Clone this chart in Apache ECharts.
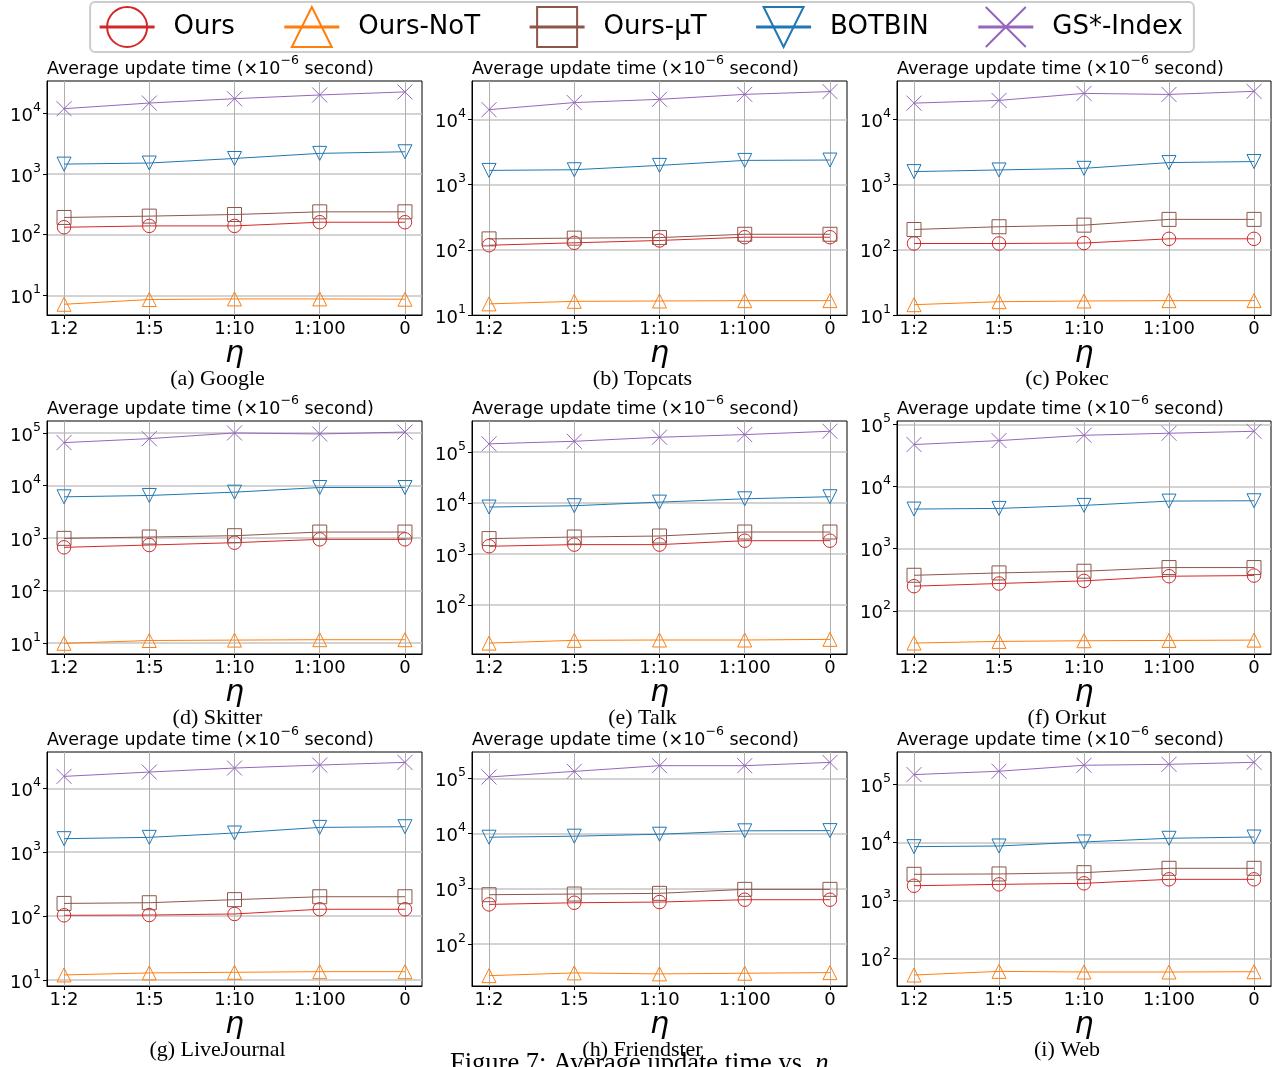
<!DOCTYPE html>
<html>
<head>
<meta charset="utf-8">
<script src="https://cdn.jsdelivr.net/npm/echarts@6/dist/echarts.min.js"></script>
<style>
html,body{margin:0;padding:0;background:#fff;}
#chart{width:1281px;height:1067px;}
</style>
</head>
<body>
<div id="chart"></div>
<script>
// ---------------- DATA ----------------
const categories = ['1:2', '1:5', '1:10', '1:100', '0'];
const seriesNames = ['Ours', 'Ours-NoT', 'Ours-μT', 'BOTBIN', 'GS*-Index'];
const panelCaptions = ['(a) Google', '(b) Topcats', '(c) Pokec', '(d) Skitter', '(e) Talk',
  '(f) Orkut', '(g) LiveJournal', '(h) Friendster', '(i) Web'];

// one row per dataset (a..i), one value per category
const ours = [
  [133, 140, 140, 161, 161],
  [117.5, 128, 139, 156, 156],
  [125, 125, 127, 147.5, 147.5],
  [665, 736, 815, 944, 944],
  [1430, 1540, 1540, 1840, 1840],
  [249, 275, 303, 360, 369],
  [103, 104, 108, 128, 128],
  [519, 556, 572, 631, 631],
  [1800, 1900, 1980, 2320, 2320]
];
const oursNoT = [
  [7.1, 8.5, 8.7, 8.7, 8.6],
  [14.8, 16.2, 16.4, 16.6, 16.6],
  [14.4, 16.0, 16.4, 16.6, 16.6],
  [9.9, 11.2, 11.4, 11.6, 11.6],
  [18.0, 20.4, 20.7, 20.7, 21.3],
  [30.3, 32.2, 33.0, 33.4, 33.8],
  [12.0, 12.9, 13.2, 13.5, 13.5],
  [26.5, 29.7, 28.5, 29.3, 30.1],
  [52.4, 60.5, 59.0, 59.0, 59.7]
];
const oursMuT = [
  [193, 203, 216, 239, 239],
  [147, 151, 154, 173, 173],
  [205, 226, 239, 293, 293],
  [986, 1045, 1107, 1300, 1300],
  [2020, 2170, 2270, 2720, 2720],
  [373, 407, 433, 496, 496],
  [158, 162, 181, 201, 201],
  [778, 800, 823, 973, 973],
  [2830, 2870, 3020, 3590, 3590]
];
const botbin = [
  [1470, 1530, 1820, 2210, 2350],
  [1650, 1690, 1970, 2350, 2380],
  [1585, 1680, 1780, 2180, 2260],
  [6090, 6460, 7470, 9160, 9160],
  [8400, 8920, 10500, 12200, 13400],
  [4330, 4440, 4960, 5820, 5890],
  [1630, 1710, 2000, 2450, 2510],
  [8580, 8950, 9720, 11200, 11300],
  [8470, 8690, 10200, 11800, 12400]
];
const gsIndex = [
  [12100, 15000, 17700, 20400, 22900],
  [14100, 18100, 20300, 24200, 26700],
  [17800, 19600, 25100, 24200, 27000],
  [65500, 78000, 100000, 95700, 104000],
  [146000, 164000, 197000, 222000, 258000],
  [47200, 54700, 66600, 71800, 77200],
  [15400, 18000, 20800, 23200, 25500],
  [106000, 134000, 170000, 170000, 195000],
  [147000, 168000, 213000, 221000, 239000]
];

// axis ranges per panel (log axis)
const yMin = [4.72, 10, 10, 6.2, 11, 20.2, 8.05, 17.2, 33.9];
const yMax = [34700, 38800, 38900, 169000, 410000, 113000, 37100, 301000, 360000];

// ---------------- STYLE / LAYOUT ----------------
const allSeries = [ours, oursNoT, oursMuT, botbin, gsIndex];
const colors = ['#d62728', '#ff7f0e', '#8c564b', '#1f77b4', '#9467bd'];
const symbols = ['circle', 'triangle', 'rect', 'triangle', 'path://M0,0L10,10M10,0L0,10'];
const symbolRot = [0, 0, 0, 180, 0];
const symbolSizes = [13.5, 14, 14, 14, 15];

const colLeft = [47, 472, 897];
const colWidth = [375, 375, 374];
const rowTop = [81, 421, 752];
const rowHeight = [234, 233, 234];

const font = '"DejaVu Sans", sans-serif';
const serif = '"Liberation Serif", "Times New Roman", serif';

function supLabel(v) {
  const e = Math.round(Math.log10(v));
  return '{b|10}{s|' + e + '}';
}

const grids = [], xAxes = [], yAxes = [], series = [], graphics = [];

for (let p = 0; p < 9; p++) {
  const r = Math.floor(p / 3), c = p % 3;
  const left = colLeft[c], top = rowTop[r], w = colWidth[c], h = rowHeight[r];
  grids.push({left: left, top: top, width: w, height: h, show: true,
    borderColor: '#000', borderWidth: 1, backgroundColor: 'transparent', containLabel: false});

  xAxes.push({
    type: 'value', gridIndex: p, min: -0.2, max: 4.2,
    axisLine: {show: true, onZero: false, lineStyle: {color: '#000', width: 1}},
    axisTick: {show: true, length: 4, inside: false, customValues: [0, 1, 2, 3, 4], lineStyle: {color: '#000'}},
    axisLabel: {show: true, customValues: [0, 1, 2, 3, 4], margin: 5,
      formatter: v => categories[Math.round(v)],
      fontFamily: font, fontSize: 18, color: '#000'},
    splitLine: {show: true, lineStyle: {color: '#b0b0b0', width: 1}}
  });

  const decades = [];
  for (let e = 0; e <= 7; e++) {
    const v = Math.pow(10, e);
    if (v >= yMin[p] && v <= yMax[p] * 1.0001) decades.push(v);
  }
  yAxes.push({
    type: 'log', logBase: 10, gridIndex: p, min: yMin[p], max: yMax[p],
    axisLine: {show: true, onZero: false, lineStyle: {color: '#000', width: 1}},
    axisTick: {show: true, length: 4, inside: false, customValues: decades, lineStyle: {color: '#000'}},
    axisLabel: {show: true, customValues: decades, margin: 6,
      formatter: v => supLabel(v), color: '#000',
      rich: {
        b: {fontFamily: font, fontSize: 18, lineHeight: 24, verticalAlign: 'bottom', color: '#000'},
        s: {fontFamily: font, fontSize: 12.6, lineHeight: 14, verticalAlign: 'top', color: '#000'}
      }},
    splitLine: {show: true, lineStyle: {color: '#c4c4c4', width: 1.5}}
  });

  for (let s = 0; s < 5; s++) {
    series.push({
      name: seriesNames[s], type: 'line', xAxisIndex: p, yAxisIndex: p,
      data: allSeries[s][p].map((v, i) => [i, v]),
      symbol: symbols[s], symbolSize: symbolSizes[s], symbolRotate: symbolRot[s],
      showAllSymbol: true, clip: false,
      lineStyle: {color: colors[s], width: 1},
      itemStyle: {color: 'rgba(0,0,0,0)', borderColor: colors[s], borderWidth: 1},
      emphasis: {disabled: true}, silent: true, z: 2 + s
    });
  }

  // panel header
  graphics.push({type: 'text', left: left, top: top - 27, silent: true,
    style: {text: '{t|Average update time (×10}{s|−6}{t| second)}',
      rich: {
        t: {fontFamily: font, fontSize: 17.5, lineHeight: 24, verticalAlign: 'bottom', fill: '#000'},
        s: {fontFamily: font, fontSize: 12.5, lineHeight: 14, verticalAlign: 'top', fill: '#000'}
      }}});
  const cx = left + w / 2;
  const bottom = top + h;
  // eta label
  graphics.push({type: 'text', x: cx, y: bottom + 39, silent: true,
    style: {text: 'η', fontFamily: font, fontStyle: 'italic', fontSize: 30, fill: '#000',
      align: 'center', verticalAlign: 'middle'}});
  // caption
  graphics.push({type: 'text', x: cx - 17, y: bottom + 64, silent: true,
    style: {text: panelCaptions[p], fontFamily: serif, fontSize: 22, fill: '#000',
      align: 'center', verticalAlign: 'middle'}});
}

graphics.push({type: 'text', x: 450, y: 1064, silent: true,
  style: {text: '{a|Figure 7: Average update time vs. }{e|η}',
    rich: {
      a: {fontFamily: serif, fontSize: 26.5, fill: '#000'},
      e: {fontFamily: serif, fontStyle: 'italic', fontSize: 26.5, fill: '#000'}
    },
    align: 'left', verticalAlign: 'middle'}});

const chart = echarts.init(document.getElementById('chart'), null, {renderer: 'canvas'});
chart.setOption({
  animation: false,
  backgroundColor: '#fff',
  legend: {
    data: seriesNames, top: 2, left: 'center',
    itemWidth: 55, itemHeight: 50, itemGap: 48,
    padding: [4, 11, 4, 8],
    borderColor: '#cccccc', borderWidth: 2, borderRadius: 5, backgroundColor: '#fff',
    lineStyle: {width: 3},
    itemStyle: {borderWidth: 2},
    textStyle: {fontFamily: font, fontSize: 26, color: '#000', padding: [0, 0, 0, 14]},
    selectedMode: false
  },
  grid: grids, xAxis: xAxes, yAxis: yAxes, series: series, graphic: graphics
});
</script>
</body>
</html>
